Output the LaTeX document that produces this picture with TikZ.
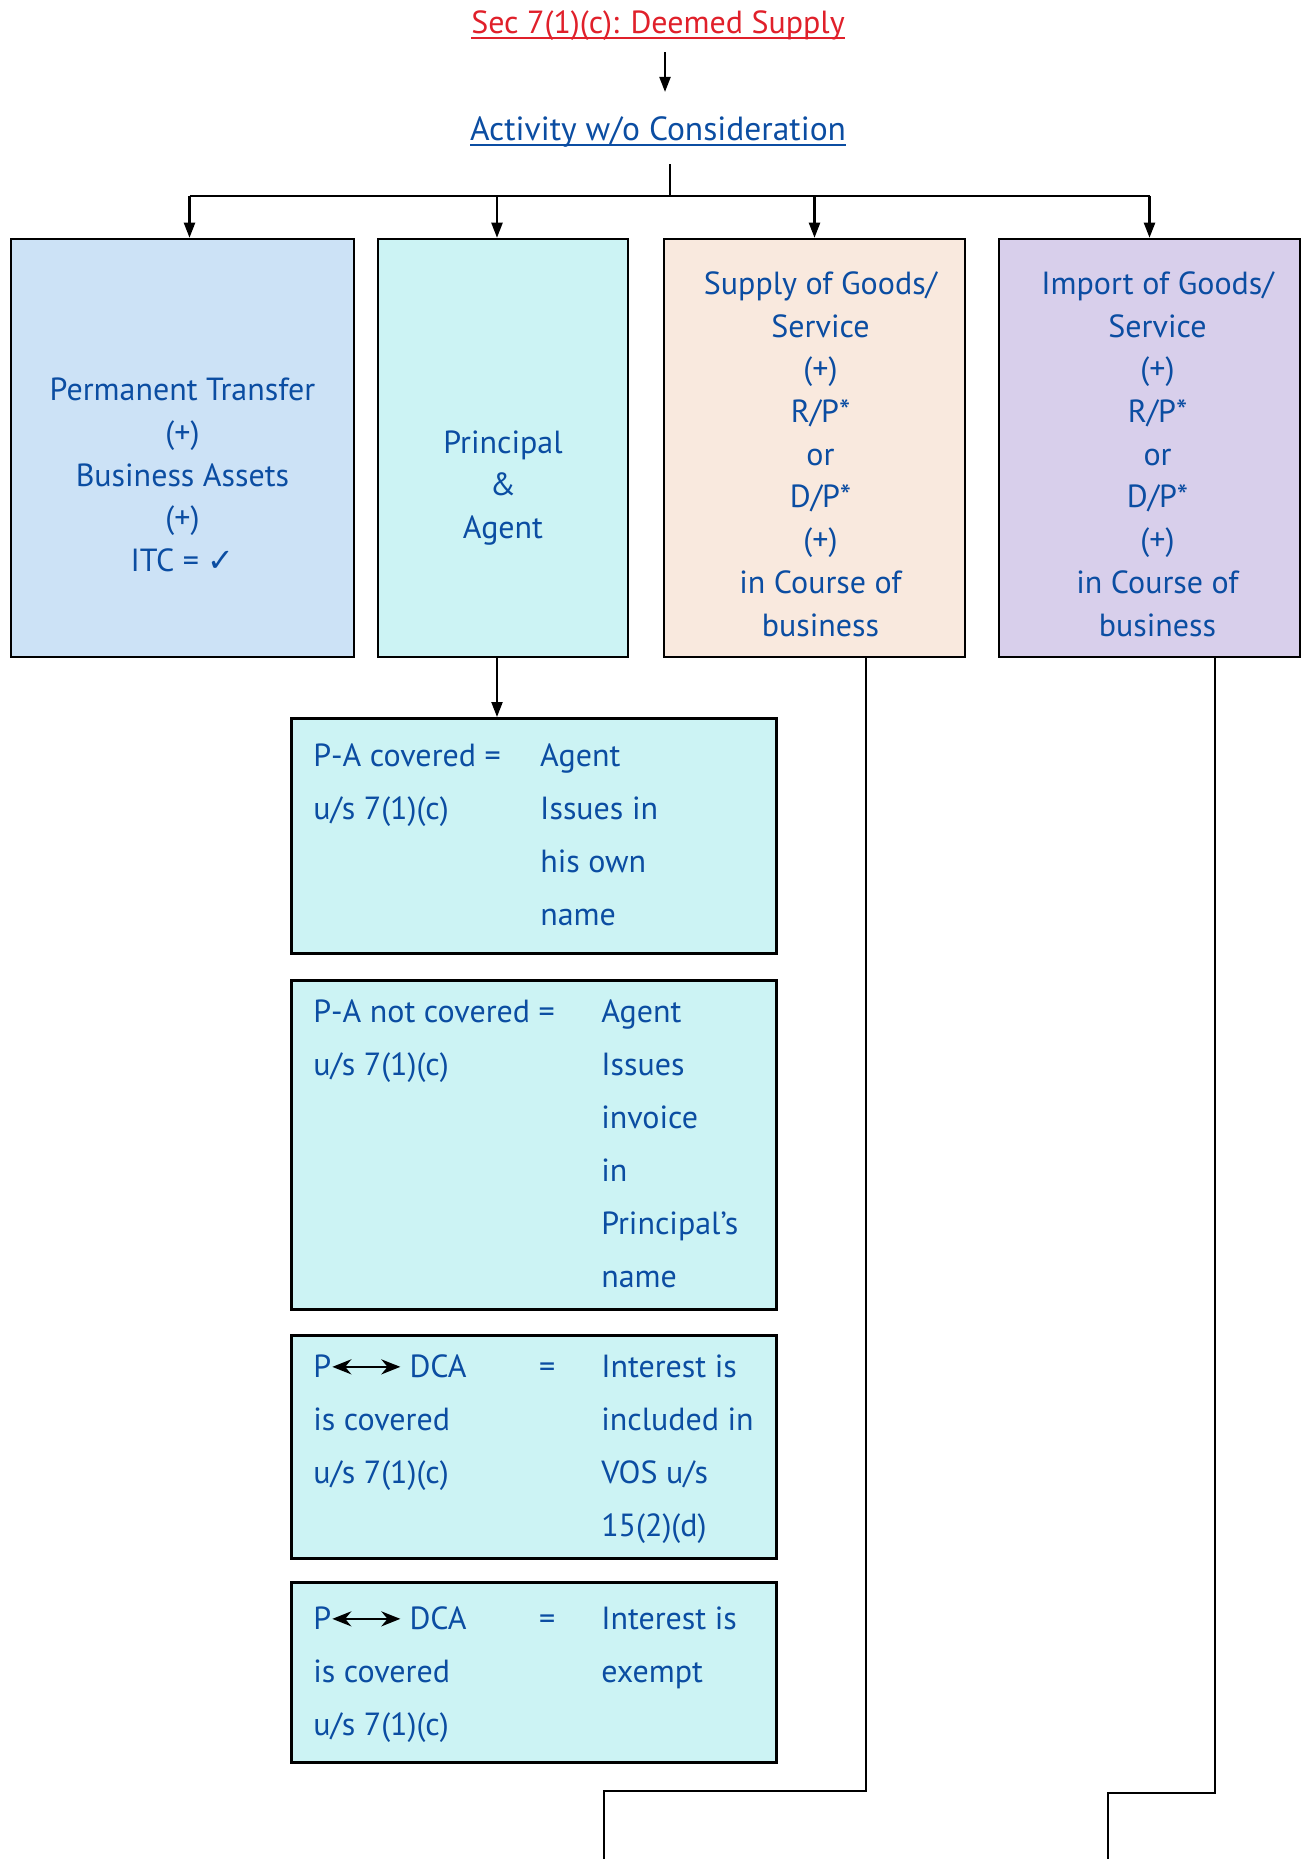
\documentclass[tikz,border=0pt]{standalone}
\usepackage{fontspec}
\setmainfont{PT Sans}
\newfontfamily\symfont{DejaVu Sans}
\usepackage{array}
\usetikzlibrary{arrows.meta}
\definecolor{inkBlue}{HTML}{0B4DA2}
\definecolor{titleRed}{HTML}{E0202A}
\definecolor{assetBlue}{HTML}{CCE2F6}
\definecolor{agentCyan}{HTML}{CCF3F4}
\definecolor{supplyPeach}{HTML}{F9E9DE}
\definecolor{importLilac}{HTML}{D8CFEB}
\newcolumntype{L}[1]{>{\raggedright\arraybackslash}p{#1}}
\setlength{\tabcolsep}{0pt}
\newsavebox{\ulsave}
\newcommand{\ultext}[1]{\sbox{\ulsave}{#1}\rlap{\rule[-5pt]{\wd\ulsave}{2pt}}\usebox{\ulsave}}
\newcommand{\dcarrow}{\tikz[baseline=-11pt]\draw[black,line width=2.4pt,{Stealth[length=19pt,width=15pt]}-{Stealth[length=19pt,width=15pt]}] (0pt,0pt) -- (68pt,0pt);}

\begin{document}
\begin{tikzpicture}[x=1pt,y=-1pt,
  >={Triangle[length=15pt,width=11pt]},
  bigfont/.style={font=\fontsize{32}{42.7}\selectfont},
  box/.style={draw=black,line width=2.5pt,minimum height=418pt,inner sep=0pt},
  boxtext/.style={bigfont,text=inkBlue,align=center},
  pabox/.style={draw=black,line width=2.5pt,fill=agentCyan,anchor=north west,
    inner xsep=22pt,inner ysep=0pt,text=inkBlue,font=\fontsize{32}{53}\selectfont},
  link/.style={line width=2.2pt}]
 \useasboundingbox (0,0) rectangle (1306,1859);
 % Headings
 \node[bigfont,text=titleRed,anchor=base,inner sep=0pt] (title) at (658,34) {\ultext{Sec 7(1)(c): Deemed Supply}};
 \node[font=\fontsize{33.5}{42.7}\selectfont,text=inkBlue,anchor=base,inner sep=0pt] (act) at (658,141) {\ultext{Activity w/o Consideration}};
 \draw[link,->] ([shift={(7,11)}]title.south) -- ([shift={(7,-25)}]act.north);
 % Four cases
 \node[box,fill=assetBlue,minimum width=343pt] (b1) at (182.5,448) {};
 \node[box,fill=agentCyan,minimum width=250pt] (b2) at (503,448) {};
 \node[box,fill=supplyPeach,minimum width=301pt] (b3) at (814.5,448) {};
 \node[box,fill=importLilac,minimum width=301pt] (b4) at (1149.5,448) {};
 \node[boxtext] (b1t) at ([yshift=-27pt]b1.center) {Permanent Transfer\\(+)\\Business Assets\\(+)\\ITC = {\symfont ✓}};
 \node[boxtext] (b2t) at ([yshift=-40pt]b2.center) {Principal\\\&\\Agent};
 \node[boxtext] (b3t) at ([shift={(6,6)}]b3.center) {Supply of Goods/\\Service\\(+)\\R/P*\\or\\D/P*\\(+)\\in Course of\\business};
 \node[boxtext] (b4t) at ([shift={(8,6)}]b4.center) {Import of Goods/\\Service\\(+)\\R/P*\\or\\D/P*\\(+)\\in Course of\\business};
 % Fork
 \coordinate (fork) at (670,196);
 \coordinate (in1) at ([xshift=7pt]b1.north);
 \coordinate (in2) at ([xshift=-6pt]b2.north);
 \coordinate (in3) at (b3.north);
 \coordinate (in4) at (b4.north);
 \draw[link,shorten <=16pt] (act.south -| fork) -- (fork);
 \draw[link] (in1 |- fork) -- (in4 |- fork);
 \foreach \i in {1,2,3,4}
   \draw[link,->] (in\i |- fork) -- (in\i);
 % Principal and agent
 \node[pabox,minimum height=235pt] (pa1) at (290,717) {\makebox[441pt][l]{\begin{tabular}{@{}L{227pt}l@{}}
   P-A covered = & Agent\\ u/s 7(1)(c) & Issues in\\ & his own\\ & name\end{tabular}}};
 \node[pabox,minimum height=329pt] (pa2) at (290,979) {\makebox[441pt][l]{\begin{tabular}{@{}L{288pt}l@{}}
   P-A not covered = & Agent\\ u/s 7(1)(c) & Issues\\ & invoice\\ & in\\ & Principal’s\\ & name\end{tabular}}};
 \node[pabox,minimum height=223pt] (pa3) at (290,1334) {\makebox[441pt][l]{\begin{tabular}{@{}L{226pt}L{62pt}l@{}}
   P\dcarrow\hspace{8pt}DCA & = & Interest is\\ is covered & & included in\\ u/s 7(1)(c) & & VOS u/s\\ & & 15(2)(d)\end{tabular}}};
 \node[pabox,minimum height=180pt] (pa4) at (290,1581) {\makebox[441pt][l]{\begin{tabular}{@{}L{226pt}L{62pt}l@{}}
   P\dcarrow\hspace{8pt}DCA & = & Interest is\\ is covered & & exempt\\ u/s 7(1)(c) & & \end{tabular}}};
 \draw[link,->] ([xshift=-6pt]b2.south) -- ([xshift=-6pt]b2.south |- pa1.north);
 % Lines running off the page
 \coordinate (end3) at (604,1859);
 \coordinate (end4) at (1108,1859);
 \draw[link] ([xshift=-100pt]b3.south east) -- ++(0,1133) -| (end3);
 \draw[link] ([xshift=-86pt]b4.south east) -- ++(0,1135) -| (end4);
\end{tikzpicture}
\end{document}
